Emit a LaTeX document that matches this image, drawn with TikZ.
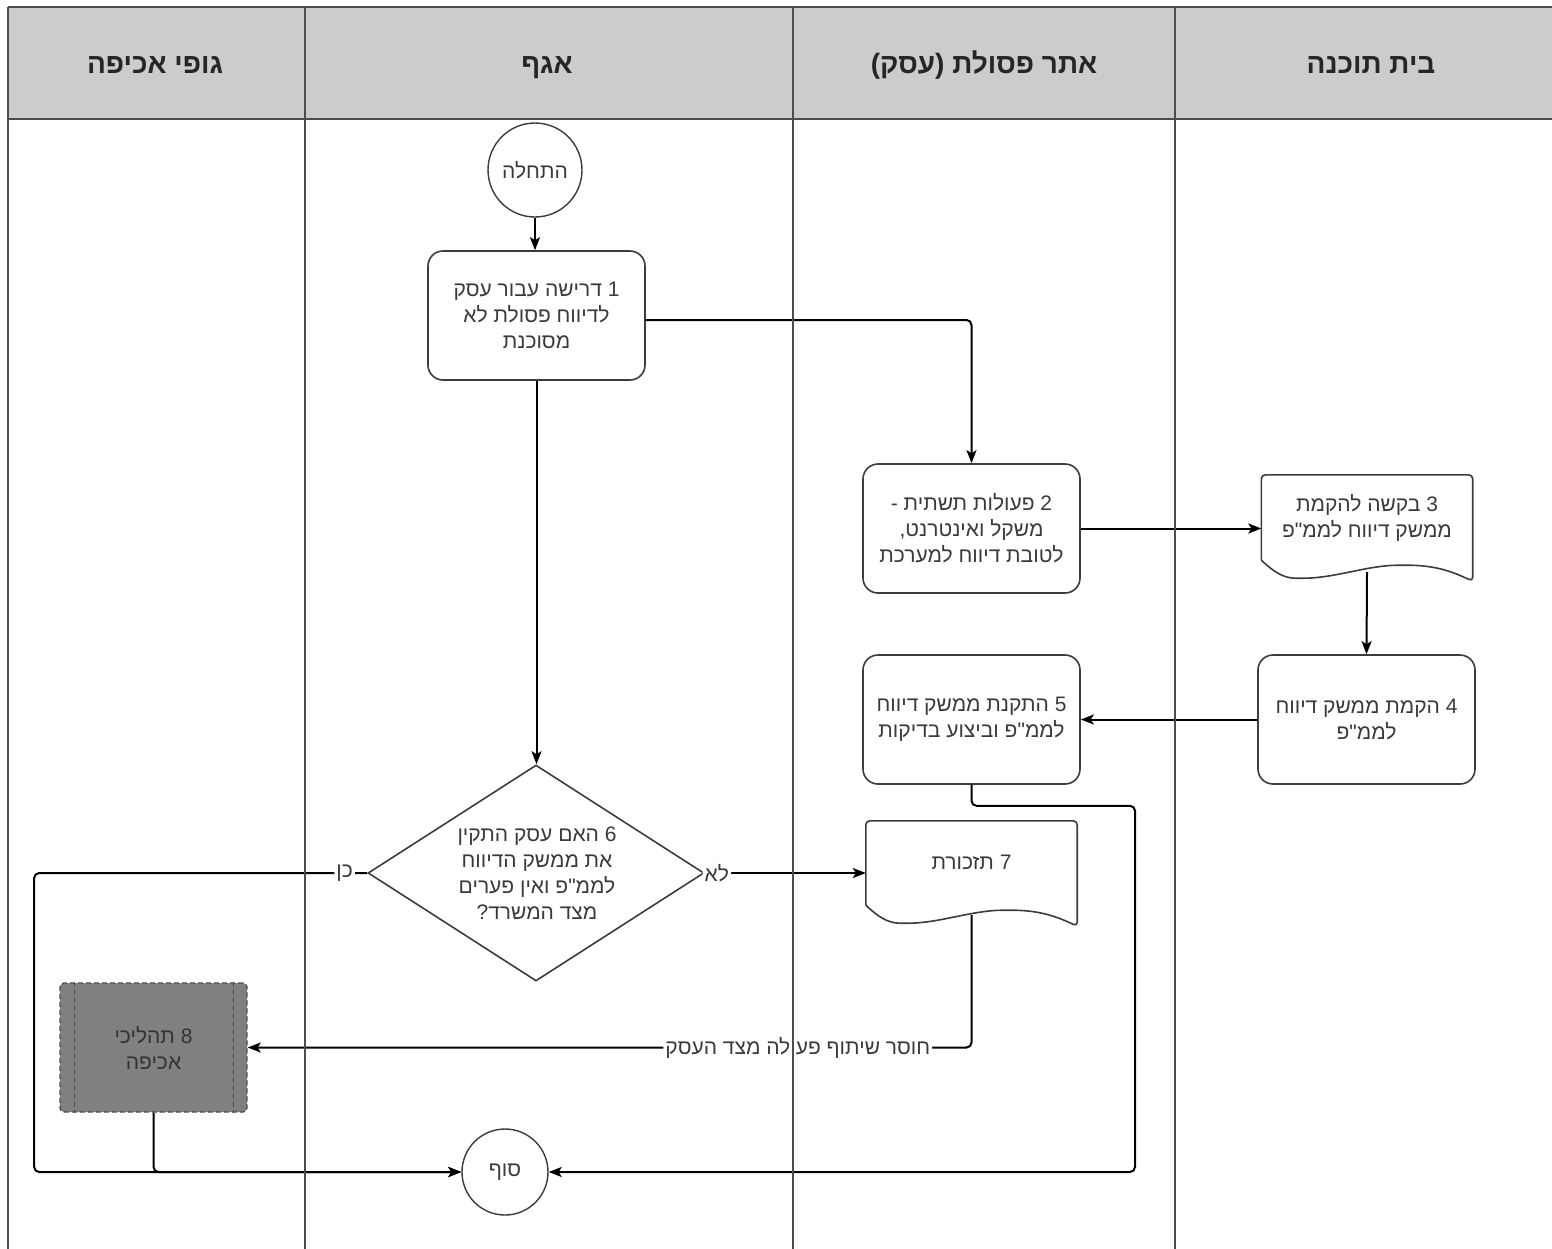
\documentclass[tikz,border=0pt]{standalone}
\usepackage{fontspec}
\newfontfamily\hebfont[Script=Hebrew]{Liberation Sans}
\TeXXeTstate=1
\usetikzlibrary{shapes.geometric,arrows.meta,calc}
\newcommand\heb[1]{\beginR#1\endR}
\definecolor{lanegray}{HTML}{4D4D4D}
\definecolor{headfill}{HTML}{CCCCCC}
\definecolor{shapegray}{HTML}{3C3C3C}
\definecolor{txtgray}{HTML}{3A3A3A}
\definecolor{enffill}{HTML}{808080}

% outline of a document shape: flat top, wavy bottom edge
\newcommand\docoutline[1]{%
  \draw[docline] (#1.south west) -- (#1.north west) -- (#1.north east)
    -- ($(#1.south east)+(0,21)$)
    .. controls ($(#1.south west)!0.90!(#1.south east)+(0,11)$)
       and ($(#1.south west)!0.82!(#1.south east)+(0,5)$)
    .. ($(#1.south west)!0.67!(#1.south east)+(0,5)$)
    .. controls ($(#1.south west)!0.50!(#1.south east)+(0,5)$)
       and ($(#1.south west)!0.35!(#1.south east)+(0,18)$)
    .. ($(#1.south west)!0.18!(#1.south east)+(0,18)$)
    .. controls ($(#1.south west)!0.10!(#1.south east)+(0,18)$)
       and ($(#1.south west)!0.05!(#1.south east)+(0,10)$)
    .. (#1.south west);}

\begin{document}
\begin{tikzpicture}[x=1pt,y=-1pt,
  font=\hebfont\fontsize{21}{26}\selectfont,
  lane/.style={draw=lanegray, line width=1.3pt},
  headtxt/.style={font=\hebfont\bfseries\fontsize{28}{32}\selectfont, text=black!85, anchor=base},
  stepbox/.style={draw=shapegray, line width=1.6pt, fill=white, rounded corners=15pt,
    minimum width=217pt, minimum height=129pt, align=center, text=txtgray, inner sep=0pt},
  docbox/.style={minimum width=211pt, minimum height=85pt, align=center, text=txtgray, inner sep=0pt},
  docline/.style={draw=shapegray, line width=1.6pt, fill=white, rounded corners=4pt},
  terminal/.style={circle, draw=shapegray, line width=1.4pt, fill=white, text=txtgray, inner sep=0pt},
  decision/.style={diamond, draw=shapegray, line width=1.6pt, fill=white, inner sep=0pt,
    minimum width=336pt, minimum height=216pt},
  dtext/.style={align=center, text=txtgray, inner sep=0pt},
  enfbox/.style={draw=lanegray, line width=1.4pt, dash pattern=on 5pt off 3pt, fill=enffill,
    rounded corners=4pt, minimum width=187pt, minimum height=129pt, align=center,
    text=black!80, inner sep=0pt},
  innerdash/.style={draw=lanegray, line width=1.2pt, dash pattern=on 5pt off 3pt},
  conn/.style={draw=black, line width=2pt, rounded corners=5pt,
    -{Stealth[length=13pt,width=10pt,inset=3pt]}},
  lbl/.style={fill=white, text=txtgray, inner sep=2pt},
]
\useasboundingbox (0,0) rectangle (1552,1248);

% header band
\fill[headfill] (8,7) rectangle (1560,119);
\node[headtxt] (h1) at (155,73) {\heb{גופי אכיפה}};
\node[headtxt] (h2) at (547,73) {\heb{אגף}};
\node[headtxt] (h3) at (984,73) {\heb{אתר פסולת (עסק)}};
\node[headtxt] (h4) at (1371,73) {\heb{בית תוכנה}};

% flow nodes
\node[terminal, minimum size=94pt] (st) at (535,170) {\heb{התחלה}};
\node[stepbox] (b1) at (536.5,315.5) {\heb{1 דרישה עבור עסק}\\\heb{לדיווח פסולת לא}\\\heb{מסוכנת}};
\node[stepbox] (b2) at (971.5,528.5) {\heb{2 פעולות תשתית -}\\\heb{משקל ואינטרנט,}\\\heb{לטובת דיווח למערכת}};
\node[docbox] (d3) at (1367,517.5) {};
\docoutline{d3}
\node[docbox] (d3t) at (d3) {\heb{3 בקשה להקמת}\\\heb{ממשק דיווח לממ"פ}};
\node[stepbox] (b4) at (1366.5,719.5) {\heb{4 הקמת ממשק דיווח}\\\heb{לממ"פ}};
\node[stepbox] (b5) at (971.5,719.5) {\heb{5 התקנת ממשק דיווח}\\\heb{לממ"פ וביצוע בדיקות}};
\node[decision] (dia) at (536,873) {};
\node[dtext] (diat) at (537,873) {\heb{6 האם עסק התקין}\\\heb{את ממשק הדיווח}\\\heb{לממ"פ ואין פערים}\\\heb{מצד המשרד?}};
\node[docbox, minimum height=84pt] (d7) at (971.5,863) {};
\docoutline{d7}
\node[docbox] (d7t) at (971.5,862) {\heb{7 תזכורת}};
\node[enfbox] (b8) at (153.5,1047.5) {\heb{8 תהליכי}\\\heb{אכיפה}};
\draw[innerdash] ([xshift=15pt]b8.north west) -- ([xshift=15pt]b8.south west);
\draw[innerdash] ([xshift=-14pt]b8.north east) -- ([xshift=-14pt]b8.south east);
\node[terminal, minimum size=86pt] (en) at (505,1172) {\heb{סוף}};

% connectors
\draw[conn] (st.south) -- (st.south |- b1.north);
\draw[conn] ([yshift=-4.5pt]b1.east) -| (b2.north);
\draw[conn] (b1.south) -- (b1.south |- dia.north);
\draw[conn] (b2.east) -- (b2.east -| d3.west);
\draw[conn] ($(d3.south)+(0,12)$) -- (b4.north);
\draw[conn] (b4.west) -- (b5.east);
\draw[conn] (b5.south) -- ++(0,21) -- ++(163.5,0) |- (en.east);
\draw[conn] (dia.east) -- node[lbl, pos=0.075] {\heb{לא}} (dia.east -| d7.west);
\draw[conn] (dia.west) -- node[lbl, pos=0.068] {\heb{כן}} ++(-333,0) |- (en.west);
\draw[conn] ($(d7.south)+(0,10)$) |- node[lbl, pos=0.62] {\heb{חוסר שיתוף פעולה מצד העסק}} (b8.east);
\draw[conn] (b8.south) |- (en.west);

% swimlane frame
\draw[lane] (8,7) -- (1560,7);
\draw[lane] (8,119) -- (1560,119);
\draw[lane] (8,7) -- (8,1250);
\draw[lane] (305,7) -- (305,1250);
\draw[lane] (793,7) -- (793,1250);
\draw[lane] (1175,7) -- (1175,1250);
\end{tikzpicture}
\end{document}
